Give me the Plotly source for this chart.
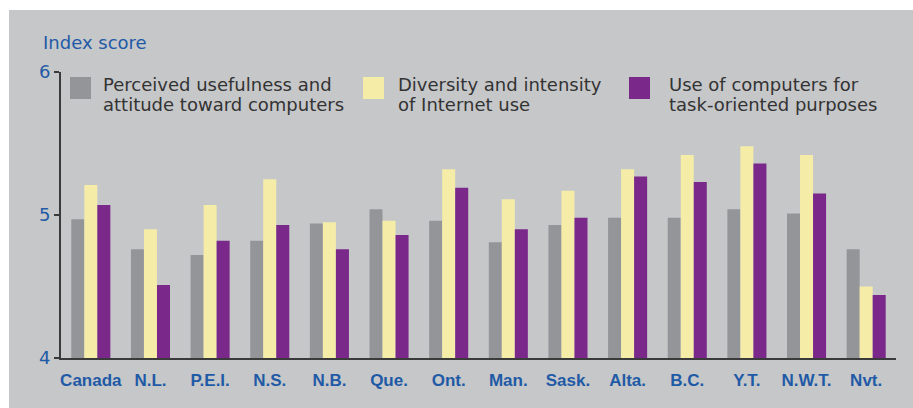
import plotly.graph_objects as go

categories = ["Canada", "N.L.", "P.E.I.", "N.S.", "N.B.", "Que.", "Ont.", "Man.",
              "Sask.", "Alta.", "B.C.", "Y.T.", "N.W.T.", "Nvt."]
usefulness = [4.97, 4.76, 4.72, 4.82, 4.94, 5.04, 4.96, 4.81, 4.93, 4.98, 4.98, 5.04, 5.01, 4.76]
internet = [5.21, 4.90, 5.07, 5.25, 4.95, 4.96, 5.32, 5.11, 5.17, 5.32, 5.42, 5.48, 5.42, 4.50]
task = [5.07, 4.51, 4.82, 4.93, 4.76, 4.86, 5.19, 4.90, 4.98, 5.27, 5.23, 5.36, 5.15, 4.44]
series_names = [["Perceived usefulness and", "attitude toward computers"],
                ["Diversity and intensity", "of Internet use"],
                ["Use of computers for", "task-oriented purposes"]]
y_ticks = [4, 5, 6]

GREY = "#939598"
YELLOW = "#f5eca8"
PURPLE = "#7a288a"
BG = "#c6c7c9"
BLUE = "#1f5aa6"
TEXT = "#333333"

W, H = 913, 408
L, R, T, B = 61, 17, 72, 50
PW, PH = W - L - R, H - T - B

def px(x):
    return (x - L) / PW

def py(y):
    return (H - B - y) / PH

fig = go.Figure()
for vals, col, nm in zip([usefulness, internet, task], [GREY, YELLOW, PURPLE], series_names):
    fig.add_trace(go.Bar(x=categories, y=vals, marker=dict(color=col, line=dict(width=0)),
                         name=" ".join(nm), showlegend=False, base=0))

shapes = [dict(type="rect", xref="paper", yref="paper", x0=px(9), x1=px(913), y0=py(408), y1=py(10),
               fillcolor=BG, line=dict(width=0), layer="below")]
annotations = [dict(text="Index score", xref="paper", yref="paper", x=px(41), y=py(42),
                    xanchor="left", yanchor="middle", showarrow=False,
                    font=dict(family="DejaVu Sans", size=18, color=BLUE))]
sq_x = [70, 363, 629]
tx_x = [101, 396, 667]
for i, col in enumerate([GREY, YELLOW, PURPLE]):
    shapes.append(dict(type="rect", xref="paper", yref="paper", x0=px(sq_x[i]), x1=px(sq_x[i] + 21),
                       y0=py(99), y1=py(77), fillcolor=col, line=dict(width=0)))
    for j, ln in enumerate(series_names[i]):
        annotations.append(dict(text=ln, xref="paper", yref="paper", x=px(tx_x[i]), y=py(84.5 + 20 * j),
                                xanchor="left", yanchor="middle", showarrow=False,
                                font=dict(family="DejaVu Sans", size=18, color=TEXT)))

fig.update_layout(
    width=W, height=H,
    margin=dict(l=L, r=R, t=T, b=B),
    paper_bgcolor="white", plot_bgcolor="rgba(0,0,0,0)",
    barmode="group", bargap=0.345, bargroupgap=0,
    shapes=shapes, annotations=annotations,
    xaxis=dict(range=[-0.5, 13.5], showgrid=False, zeroline=False, showline=True,
               linecolor="#3a3a3a", linewidth=2, ticks="", fixedrange=True, ticklabelstandoff=6,
               tickfont=dict(family="Liberation Sans", size=17, color=BLUE, weight="bold")),
    yaxis=dict(range=[4, 6], tickvals=y_ticks, showgrid=False, zeroline=False, showline=True,
               linecolor="#3a3a3a", linewidth=2, ticks="outside", ticklen=5, tickwidth=2,
               tickcolor="#3a3a3a",
               tickfont=dict(family="DejaVu Sans", size=18, color=BLUE)),
)
fig.write_html("out.html", config={"displayModeBar": False},
               post_script="document.body.style.margin='0';document.body.style.overflow='hidden';")
